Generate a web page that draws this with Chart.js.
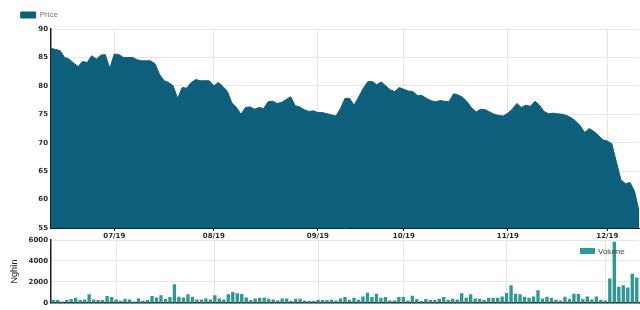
<!DOCTYPE html>
<html><head><meta charset="utf-8">
<script src="https://cdn.jsdelivr.net/npm/chart.js@4"></script>
<style>
html,body{margin:0;padding:0;background:#fff;}
#wrap{position:relative;width:640px;height:310px;overflow:hidden;background:#fff;}
#priceBox{position:absolute;left:0;top:0;width:640px;height:242px;}
#volBox{position:absolute;left:0;top:230px;width:640px;height:80px;}
</style></head><body>
<div id="wrap"><div id="priceBox"><canvas id="price"></canvas></div><div id="volBox"><canvas id="vol"></canvas></div></div>
<script>
const monthLabels = ['07/19','08/19','09/19','10/19','11/19','12/19'];
const monthStartIdx = [14, 36, 59, 78, 101, 123];
const priceTicks = [55, 60, 65, 70, 75, 80, 85, 90];
const volumeTicks = [0, 2000, 4000, 6000];
const priceValues = [
86.6,86.4,86.2,85.0,84.7,84.0,83.4,84.3,84.1,85.3,
84.7,85.4,85.5,83.1,85.6,85.5,85.0,85.0,85.0,84.6,
84.4,84.4,84.4,83.9,82.0,80.9,80.6,80.0,77.8,79.7,
79.6,80.6,81.1,80.9,80.9,80.9,80.0,80.6,79.9,79.0,
77.0,76.2,75.0,76.2,76.3,75.9,76.2,76.0,77.2,77.3,
76.9,77.1,77.6,78.1,76.5,76.3,75.8,75.5,75.6,75.3,
75.3,75.1,74.9,74.7,76.0,77.8,77.8,76.6,78.0,79.5,
80.7,80.8,80.2,80.7,80.0,79.3,79.0,79.7,79.4,79.1,
79.0,78.3,78.3,77.8,77.4,77.2,77.4,77.3,77.2,78.6,
78.4,78.0,77.2,76.1,75.4,75.9,75.8,75.4,75.0,74.8,
74.7,75.2,75.9,76.9,76.2,76.6,76.4,77.3,76.6,75.5,
75.1,75.2,75.1,75.0,74.8,74.4,73.8,73.0,71.8,72.5,
72.0,71.3,70.5,70.3,69.8,66.6,63.5,62.8,63.0,61.5,
58.0];
const volumeValues = [
230,230,100,230,320,450,230,290,780,290,230,230,610,520,290,160,360,290,100,390,
160,230,610,480,680,320,520,1740,550,480,780,550,290,
290,390,290,680,390,290,780,1000,870,810,480,230,390,450,450,360,290,190,390,390,
160,360,360,190,130,130,260,230,230,260,190,
390,520,260,450,260,580,940,520,840,450,520,190,190,520,520,190,650,320,130,320,
230,230,360,520,230,360,290,870,450,780,390,360,230,
450,450,450,580,900,1650,840,780,550,450,580,1160,390,550,450,260,190,550,320,840,
810,320,580,290,580,260,190,2290,5810,1490,1650,1420,2750,2390];

const tickFont = {family: 'DejaVu Sans', size: 7, weight: 'bold'};
const tickColor = '#2a2a2a';
const gridColor = '#e6e6e6';
const axisColor = '#1e1e1e';
const priceColor = '#0e5f7b';
const volColor = '#2b9a95';

function monthTicks(s) { s.ticks = monthStartIdx.map(v => ({value: v})); }

// legend drawn inside the volume chart area (top-right), like the reference
const insideLegend = {
  id: 'insideLegend',
  afterDatasetsDraw(chart) {
    const {ctx, chartArea} = chart;
    const ds = chart.data.datasets[0];
    ctx.save();
    ctx.font = '8px "Liberation Sans"';
    const x = chartArea.right - 59;
    const y = chartArea.top + 8;
    ctx.fillStyle = ds.backgroundColor;
    ctx.fillRect(x, y, 15, 6);
    ctx.fillStyle = '#444';
    ctx.textBaseline = 'middle';
    ctx.fillText(ds.label, x + 18, y + 3.5);
    ctx.restore();
  }
};

new Chart(document.getElementById('price'), {
  type: 'line',
  data: {
    datasets: [{
      label: 'Price',
      data: priceValues.map((v, i) => ({x: i, y: v})),
      borderColor: priceColor,
      backgroundColor: priceColor,
      borderWidth: 1,
      pointRadius: 0,
      tension: 0,
      fill: 'start'
    }]
  },
  options: {
    animation: false,
    responsive: true,
    maintainAspectRatio: false,
    layout: {padding: {left: 10.7, right: 1, top: 1, bottom: 0}},
    plugins: {
      legend: {
        display: true, position: 'top', align: 'start',
        labels: {boxWidth: 15, boxHeight: 6, padding: 10, color: '#777',
          font: {family: 'Liberation Sans', size: 8}}
      },
      tooltip: {enabled: false}
    },
    scales: {
      x: {
        type: 'linear', min: 0, max: priceValues.length - 1,
        afterBuildTicks: monthTicks,
        afterFit(s) { s.height = 14; },
        ticks: {autoSkip: false, maxRotation: 0, padding: 1, color: tickColor, font: tickFont,
          callback: (v, i) => monthLabels[i]},
        grid: {color: gridColor, tickColor: axisColor, tickLength: 3},
        border: {color: axisColor}
      },
      y: {
        min: 55, max: 90,
        afterBuildTicks(s) { s.ticks = priceTicks.map(v => ({value: v})); },
        afterFit(s) { s.width = 40.3; },
        ticks: {padding: 3, color: tickColor, font: tickFont},
        grid: {color: gridColor, drawTicks: false},
        border: {color: axisColor, width: 1.5}
      }
    }
  }
});

new Chart(document.getElementById('vol'), {
  type: 'bar',
  data: {
    labels: volumeValues.map((v, i) => String(i)),
    datasets: [{
      label: 'Volume',
      data: volumeValues,
      backgroundColor: volColor,
      borderWidth: 0,
      barThickness: 2.7
    }]
  },
  options: {
    animation: false,
    responsive: true,
    maintainAspectRatio: false,
    layout: {padding: {left: 0, right: 1, top: 10, bottom: 6}},
    plugins: {
      legend: {display: false},
      tooltip: {enabled: false}
    },
    scales: {
      x: {
        type: 'category', offset: true,
        ticks: {display: false, autoSkip: false},
        grid: {offset: false, drawTicks: false,
          color: c => monthStartIdx.includes(c.index) ? gridColor : 'rgba(0,0,0,0)'},
        border: {color: axisColor, width: 1.5}
      },
      y: {
        min: 0, max: 6000,
        afterBuildTicks(s) { s.ticks = volumeTicks.map(v => ({value: v})); },
        afterFit(s) { s.width = 51; },
        title: {display: true, text: 'Nghìn', color: '#222',
          font: {family: 'Liberation Sans', size: 9}, padding: {top: 9, bottom: 0}},
        ticks: {padding: 3, color: tickColor, font: tickFont, callback: v => String(v)},
        grid: {color: gridColor, drawTicks: false},
        border: {color: axisColor, width: 1.5}
      }
    }
  },
  plugins: [insideLegend]
});
</script>
</body></html>
